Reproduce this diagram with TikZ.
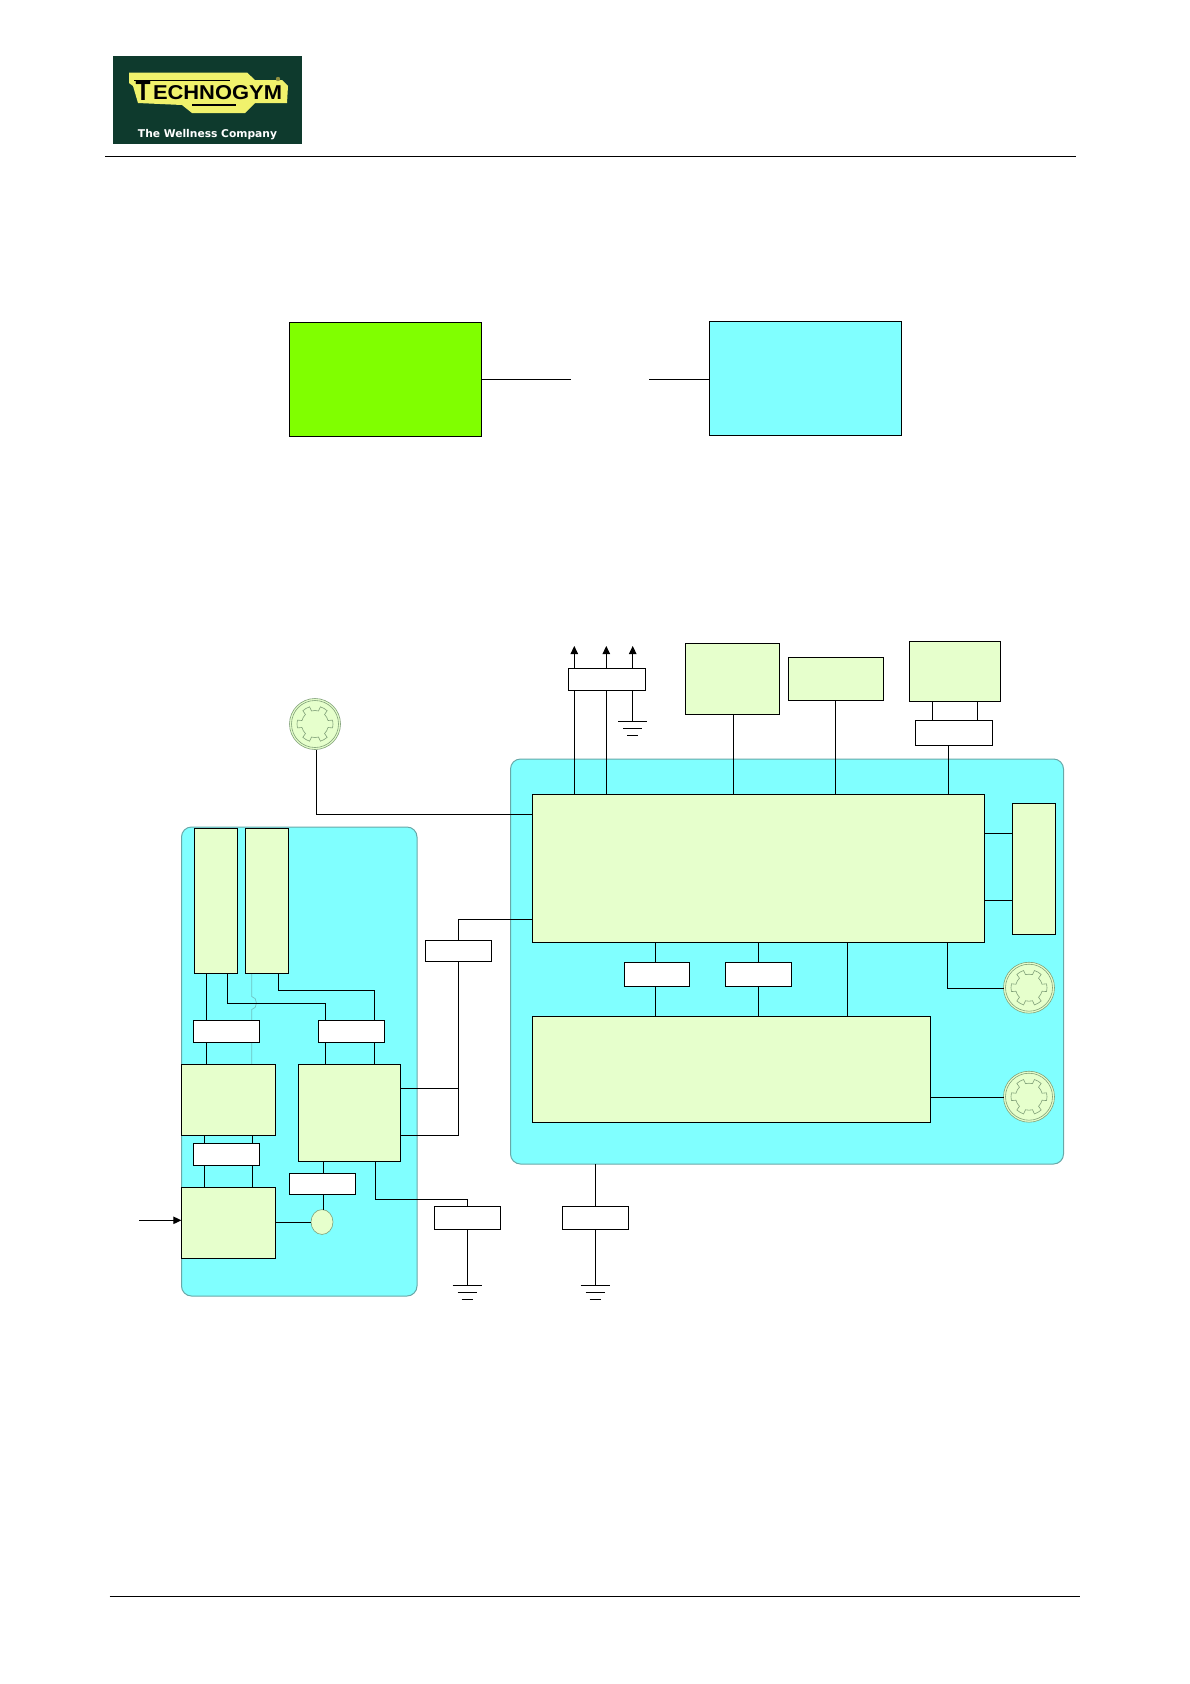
\documentclass[tikz,border=0pt]{standalone}
\usepackage{fontspec}
\setmainfont{Liberation Sans}
\newfontfamily\logofont{DejaVu Sans}
\usetikzlibrary{arrows.meta}
\definecolor{panelc}{HTML}{80FFFF}
\definecolor{paneledge}{HTML}{68A8A8}
\definecolor{boxc}{HTML}{E6FFCC}
\definecolor{greenc}{HTML}{80FF00}
\definecolor{logobg}{HTML}{0E3A2D}
\definecolor{logoy}{HTML}{F0F26C}
\definecolor{gearedge}{HTML}{7F9F77}
\tikzset{
  blk/.style={draw=black,line width=1pt,inner sep=0pt,outer sep=0pt,fill=boxc},
  whitebox/.style={blk,fill=white},
  greenbox/.style={blk,fill=greenc},
  cyanbox/.style={blk,fill=panelc},
  panel/.style={draw=paneledge,line width=1pt,inner sep=0pt,outer sep=0pt,fill=panelc,rounded corners=10pt},
  wire/.style={draw=black,line width=1pt},
  faint/.style={draw=paneledge!70!panelc,line width=0.7pt},
  gearline/.style={draw=gearedge,line width=0.6pt},
  rule/.style={draw=black,line width=0.9pt},
  arrowwire/.style={wire,-{Triangle[length=8pt,width=7.5pt]}},
}
\newcommand{\mybox}[6]{%
  \pgfmathsetmacro{\bw}{#5-#3}\pgfmathsetmacro{\bh}{#6-#4}%
  \pgfmathsetmacro{\bx}{(#3+#5)/2}\pgfmathsetmacro{\by}{(#4+#6)/2}%
  \node[#2,minimum width=\bw pt,minimum height=\bh pt] (#1) at (\bx,\by) {};}
\newcommand{\earth}[1]{%
  \draw[wire] ([xshift=-14.5pt]#1) -- ([xshift=14.5pt]#1);
  \draw[wire] ([xshift=-9.5pt,yshift=-7pt]#1) -- ([xshift=9.5pt,yshift=-7pt]#1);
  \draw[wire] ([xshift=-5.5pt,yshift=-14pt]#1) -- ([xshift=5.5pt,yshift=-14pt]#1);}
% gear: name, cx, cy, rotation
\newcommand{\gearicon}[4]{%
  \node[circle,draw=gearedge,line width=0.6pt,fill=boxc,minimum size=51pt,inner sep=0pt,outer sep=0pt] (#1) at (#2,#3) {};
  \draw[gearline] (#2,#3) circle[radius=23.5];
  \begin{scope}[shift={(#2,#3)},rotate=#4]
    \draw[gearline] (77.5:18) \foreach \a in {0,60,...,300}{
      arc[start angle=77.5+\a,end angle=102.5+\a,radius=18]
      -- (105+\a:13.5) arc[start angle=105+\a,end angle=135+\a,radius=13.5]
      -- (137.5+\a:18)} -- cycle;
  \end{scope}}
\begin{document}
\begin{tikzpicture}[x=1pt,y=-1pt]
\useasboundingbox (0,0) rectangle (1190,1684);
\fill[white] (0,0) rectangle (1190,1684);

% logo
\node[fill=logobg,minimum width=189pt,minimum height=88pt,inner sep=0pt,outer sep=0pt] (logo) at (207.5,100) {};
\fill[logoy] (129,72.5) -- (247,72.5) -- (255,80) -- (282,80) -- (288,86) -- (287,103) -- (255,103) -- (245,113) -- (192,113) -- (182,105) -- (138,103) -- (133,86) -- (129,83) -- cycle;
\node[text=black,font=\bfseries,inner sep=0pt] (logot) at (143,90.5) {\resizebox{15pt}{19pt}{T}};
\node[text=black,font=\bfseries,inner sep=0pt] (logotext) at (217.5,92.5) {\resizebox{129pt}{14pt}{ECHNOGYM}};
\draw[black,line width=1.6pt] (134,80.5) -- (230,80.5);
\draw[black,line width=1.6pt] (192,105) -- (236,105);
\fill[logoy!60!black] (278,79) circle[radius=2.2];
\node[text=white,font=\logofont\bfseries,inner sep=0pt] (logosub) at (207.5,134.5) {\resizebox{139pt}{!}{The Wellness Company}};

% page rules
\coordinate (hl) at (105,156.3); \coordinate (hr) at (1076,156.3);
\coordinate (fl) at (109.5,1596); \coordinate (fr) at (1080,1596);
\draw[rule] (hl) -- (hr);
\draw[rule] (fl) -- (fr);

% top pair
\mybox{topgreen}{greenbox}{289}{322}{481}{436}
\mybox{topcyan}{cyanbox}{709}{321}{901}{435}
\coordinate (gapl) at (571,379); \coordinate (gapr) at (649,379);
\draw[wire] (topgreen.east |- gapl) -- (gapl);
\draw[wire] (gapr) -- (topcyan.west |- gapr);

% panels
\mybox{leftpanel}{panel}{181.5}{827}{417}{1296}
\mybox{rightpanel}{panel}{510.5}{759}{1063.5}{1164}

% column and row helpers
\coordinate (xa) at (206.3,0); \coordinate (xb) at (227.3,0); \coordinate (xc) at (278.3,0);
\coordinate (xd) at (325.3,0); \coordinate (xe) at (374.3,0); \coordinate (xf) at (204.3,0);
\coordinate (xg) at (252.3,0); \coordinate (xh) at (323.3,0); \coordinate (xi) at (375.3,0);
\coordinate (xj) at (458.6,0); \coordinate (xk) at (467.2,0); \coordinate (xl) at (595,0);
\coordinate (xm) at (574.3,0); \coordinate (xn) at (606.3,0); \coordinate (xo) at (632.7,0);
\coordinate (xp) at (733.5,0); \coordinate (xq) at (835.5,0); \coordinate (xr) at (932,0);
\coordinate (xs) at (977,0); \coordinate (xt) at (948.5,0); \coordinate (xu) at (655,0);
\coordinate (xv) at (758,0); \coordinate (xw) at (847.5,0); \coordinate (xx) at (947.5,0);
\coordinate (xy) at (316.3,0); \coordinate (xz) at (251.7,0);

% faint trace, under the blocks
\coordinate (tracetop) at (251.7,973.3);
\coordinate (tracebot) at (251.7,1064.3);
\draw[faint] (tracetop) -- (251.7,996.5) .. controls (258,997) and (258,1009) .. (251.7,1009.5) -- (tracebot);

% left panel blocks
\mybox{la}{blk}{194.3}{828}{237.7}{973.3}
\mybox{lb}{blk}{245.3}{828}{288.7}{973.3}
\mybox{w1}{whitebox}{193.3}{1020.3}{259.7}{1042.3}
\mybox{w2}{whitebox}{318.3}{1020.3}{384.7}{1042.3}
\mybox{lc}{blk}{181.3}{1064.3}{275.7}{1135.3}
\mybox{ld}{blk}{298.3}{1064.3}{400.7}{1161.3}
\mybox{w3}{whitebox}{193.3}{1143.3}{259.7}{1165.7}
\mybox{le}{blk}{181.3}{1187.3}{275.7}{1258.3}
\mybox{w4}{whitebox}{289.3}{1173.3}{355.7}{1194.7}
\node[circle,draw=gearedge,line width=0.6pt,fill=boxc,minimum width=22pt,minimum height=22pt,inner sep=0pt,outer sep=0pt,yscale=1.13] (lamp) at (322,1222) {};

% left panel wires
\draw[wire] (la.south -| xa) -- (w1.north -| xa);
\draw[wire] (w1.south -| xa) -- (lc.north -| xa);
\coordinate (ry1) at (0,1003.3);
\coordinate (ry2) at (0,990.3);
\draw[wire] (la.south -| xb) -- (xb |- ry1) -- (xd |- ry1) -- (w2.north -| xd);
\draw[wire] (lb.south -| xc) -- (xc |- ry2) -- (xe |- ry2) -- (w2.north -| xe);
\draw[wire] (w2.south -| xd) -- (ld.north -| xd);
\draw[wire] (w2.south -| xe) -- (ld.north -| xe);
\draw[wire] (lc.south -| xf) -- (w3.north -| xf);
\draw[wire] (lc.south -| xg) -- (w3.north -| xg);
\draw[wire] (w3.south -| xf) -- (le.north -| xf);
\draw[wire] (w3.south -| xg) -- (le.north -| xg);
\draw[wire] (ld.south -| xh) -- (w4.north -| xh);
\draw[wire] (w4.south -| xh) -- (lamp.north -| xh);
\coordinate (ry3) at (0,1222.3);
\draw[wire] (le.east |- ry3) -- (lamp.west |- ry3);
\coordinate (inarrow) at (139,1220.3);
\draw[arrowwire] (inarrow) -- (le.west |- inarrow);

% right panel blocks
\mybox{main}{blk}{532.7}{794.5}{984.5}{942.5}
\mybox{lower}{blk}{532.7}{1016}{930}{1122.5}
\mybox{side}{blk}{1012.8}{803.5}{1055.5}{934.5}
\mybox{w7}{whitebox}{624}{962.5}{689.5}{986}
\mybox{w8}{whitebox}{725}{962.5}{791.5}{986}
\mybox{w5}{whitebox}{425.3}{940}{491.5}{961.5}
\mybox{w6}{whitebox}{434}{1206}{500.5}{1229}
\mybox{w10}{whitebox}{562.3}{1206}{628.3}{1229}
\mybox{w11}{whitebox}{568.3}{668.3}{645.7}{690.3}
\mybox{w9}{whitebox}{915}{720}{992.5}{745.5}
\mybox{t1}{blk}{685}{643.5}{779.5}{714}
\mybox{t2}{blk}{788}{657}{883}{700.5}
\mybox{t3}{blk}{909}{641}{1000.5}{701.5}

% gears
\gearicon{g1}{315}{724}{30}
\gearicon{g2}{1029}{987.7}{30}
\gearicon{g3}{1029}{1096.7}{30}

% main block wires
\coordinate (ry4) at (0,814);
\draw[wire] (g1.south -| xy) -- (xy |- ry4) -- (main.west |- ry4);
\coordinate (ry5) at (0,919.5);
\coordinate (ry6) at (0,1088.3);
\coordinate (ry7) at (0,1135.3);
\draw[wire] (main.west |- ry5) -- (xj |- ry5) -- (w5.north -| xj);
\draw[wire] (w5.south -| xj) -- (xj |- ry7) -- (ld.east |- ry7);
\draw[wire] (ld.east |- ry6) -- (xj |- ry6);
\coordinate (ry8) at (0,1199.3);
\draw[wire] (ld.south -| xi) -- (xi |- ry8) -- (xk |- ry8) -- (w6.north -| xk);
\coordinate (gnda) at (467.2,1285);
\coordinate (gndb) at (595,1285);
\coordinate (gndc) at (632.7,721);
\draw[wire] (w6.south -| xk) -- (gnda);
\earth{gnda}
\draw[wire] (rightpanel.south -| xl) -- (w10.north -| xl);
\draw[wire] (w10.south -| xl) -- (gndb);
\earth{gndb}
\draw[wire] (w11.south -| xo) -- (gndc);
\earth{gndc}
\draw[wire] (w11.south -| xm) -- (main.north -| xm);
\draw[wire] (w11.south -| xn) -- (main.north -| xn);
\coordinate (ap1) at (574.3,646); \coordinate (ap2) at (606.3,646); \coordinate (ap3) at (632.7,646);
\draw[arrowwire] (w11.north -| xm) -- (ap1);
\draw[arrowwire] (w11.north -| xn) -- (ap2);
\draw[arrowwire] (w11.north -| xo) -- (ap3);
\draw[wire] (t1.south -| xp) -- (main.north -| xp);
\draw[wire] (t2.south -| xq) -- (main.north -| xq);
\draw[wire] (t3.south -| xr) -- (w9.north -| xr);
\draw[wire] (t3.south -| xs) -- (w9.north -| xs);
\draw[wire] (w9.south -| xt) -- (main.north -| xt);
\coordinate (ry9) at (0,833.5); \coordinate (ry10) at (0,900);
\draw[wire] (main.east |- ry9) -- (side.west |- ry9);
\draw[wire] (main.east |- ry10) -- (side.west |- ry10);
\draw[wire] (main.south -| xu) -- (w7.north -| xu);
\draw[wire] (w7.south -| xu) -- (lower.north -| xu);
\draw[wire] (main.south -| xv) -- (w8.north -| xv);
\draw[wire] (w8.south -| xv) -- (lower.north -| xv);
\draw[wire] (main.south -| xw) -- (lower.north -| xw);
\coordinate (ry12) at (0,988);
\draw[wire] (main.south -| xx) -- (xx |- ry12) -- (g2.west |- ry12);
\coordinate (ry11) at (0,1097);
\draw[wire] (lower.east |- ry11) -- (g3.west |- ry11);
\end{tikzpicture}
\end{document}
